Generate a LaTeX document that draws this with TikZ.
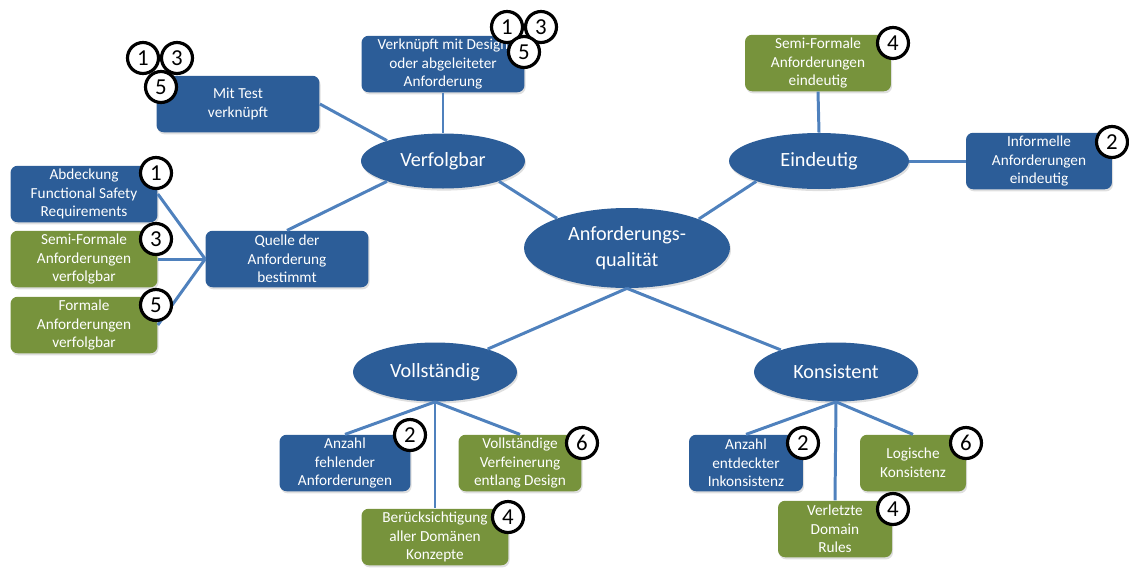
\documentclass[tikz,border=0pt]{standalone}
\usepackage{fontspec}
\setmainfont{Carlito}
\usetikzlibrary{shapes.geometric,shadows}

\definecolor{qblue}{RGB}{44,93,152}
\definecolor{qgreen}{RGB}{119,147,60}
\definecolor{qline}{RGB}{79,129,189}

\tikzset{
	topic/.style = {ellipse, fill=qblue, text=white, inner sep=0pt, align=center,
		font=\fontsize{11.5}{15}\selectfont,
		drop shadow={opacity=0.25, shadow xshift=0.6pt, shadow yshift=-1.2pt}},
	crit/.style = {rectangle, rounded corners=4pt, fill=qblue, text=white, inner sep=1pt,
		minimum height=1.13cm, align=center, font=\fontsize{8.7}{10.6}\selectfont,
		drop shadow={opacity=0.25, shadow xshift=0.6pt, shadow yshift=-1.2pt}},
	critg/.style = {crit, fill=qgreen},
	level/.style = {circle, draw=black, line width=1.8pt, fill=white, inner sep=0pt,
		minimum size=0.62cm, font=\fontsize{13}{13}\selectfont},
	link/.style = {qline, line width=1.7pt}
}

\begin{document}
\begin{tikzpicture}[x=0.02cm, y=-0.02cm]
	\useasboundingbox (0,0) rectangle (1129,569);

	% Hauptknoten und Kategorien
	\node [topic, minimum width=4.12cm, minimum height=1.6cm] (qual) at (627,248) {Anforderungs-\\qualität};
	\node [topic, minimum width=3.28cm, minimum height=1.1cm] (verf) at (443,161) {Verfolgbar};
	\node [topic, minimum width=3.6cm, minimum height=1.12cm] (eind) at (819,161) {Eindeutig};
	\node [topic, minimum width=3.28cm, minimum height=1.18cm] (voll) at (435,372) {Vollständig};
	\node [topic, minimum width=3.28cm, minimum height=1.18cm] (kons) at (836,372) {Konsistent};

	% Verfolgbar
	\node [crit, minimum width=3.26cm] (mittest) at (238,104) {Mit Test\\verknüpft};
	\node [crit, minimum width=3.26cm] (verkn) at (443,64) {Verknüpft mit Design\\oder abgeleiteter\\Anforderung};
	\node [crit, minimum width=3.26cm] (quelle) at (287,259) {Quelle der\\Anforderung\\bestimmt};
	\node [crit, minimum width=2.94cm] (abd) at (84,194) {Abdeckung\\Functional Safety\\Requirements};
	\node [critg, minimum width=2.94cm] (semverf) at (84,259) {Semi-Formale\\Anforderungen\\verfolgbar};
	\node [critg, minimum width=2.94cm] (formverf) at (84,325) {Formale\\Anforderungen\\verfolgbar};

	% Eindeutig
	\node [critg, minimum width=2.92cm] (semeind) at (818,63) {Semi-Formale\\Anforderungen\\eindeutig};
	\node [crit, minimum width=2.92cm] (infeind) at (1039,161) {Informelle\\Anforderungen\\eindeutig};

	% Vollständig
	\node [crit, minimum width=2.62cm] (fehl) at (345,463) {Anzahl\\fehlender\\Anforderungen};
	\node [critg, minimum width=2.46cm] (verfein) at (520,463) {Vollständige\\Verfeinerung\\entlang Design};
	\node [critg, minimum width=2.94cm] (domkonz) at (435,537) {Berücksichtigung\\aller Domänen\\Konzepte};

	% Konsistent
	\node [crit, minimum width=2.28cm] (inkons) at (746,463) {Anzahl\\entdeckter\\Inkonsistenz};
	\node [critg, minimum width=2.12cm] (logik) at (913,463) {Logische\\Konsistenz};
	\node [critg, minimum width=2.28cm] (domrules) at (835,529) {Verletzte\\Domain\\Rules};

	% Verbindungen
	\draw [link] (qual.157) -- (verf.-20);
	\draw [link] (qual.22) -- (eind.198);
	\draw [link] (qual.south) -- (voll);
	\draw [link] (qual.south) -- (kons);
	\draw [link] (mittest.east) -- (verf.160);
	\draw [link] (verkn.south) -- (verf.north);
	\draw [link] (quelle.north) -- (verf.200);
	\draw [link] (quelle.west) -- (abd.east);
	\draw [link] (quelle.west) -- (semverf.east);
	\draw [link] (quelle.west) -- (formverf.east);
	\draw [link] (semeind.south) -- (eind.north);
	\draw [link] (eind.east) -- (infeind.west);
	\draw [link] (voll.south) -- (fehl.north);
	\draw [link] (voll.south) -- (verfein.north);
	\draw [link] (voll.south) -- (domkonz.north);
	\draw [link] (kons.south) -- (inkons.north);
	\draw [link] (kons.south) -- (logik.north);
	\draw [link] (kons.south) -- (domrules.north);

	% Stufen
	\node [level] (mt1) at (143,58) {1};
	\node [level] (mt3) at (177,58) {3};
	\node [level] (mt5) at (161,87) {5};
	\node [level] (vk1) at (507,27) {1};
	\node [level] (vk3) at (541,27) {3};
	\node [level] (vk5) at (524,52) {5};
	\node [level] (se4) at (893,43) {4};
	\node [level] (ie2) at (1112,142) {2};
	\node [level] (ab1) at (156,173) {1};
	\node [level] (sv3) at (156,239) {3};
	\node [level] (fv5) at (156,305) {5};
	\node [level] (fe2) at (410,435) {2};
	\node [level] (vf6) at (582,443) {6};
	\node [level] (dk4) at (508,517) {4};
	\node [level] (ik2) at (803,443) {2};
	\node [level] (lk6) at (966,443) {6};
	\node [level] (dr4) at (893,509) {4};
\end{tikzpicture}
\end{document}
